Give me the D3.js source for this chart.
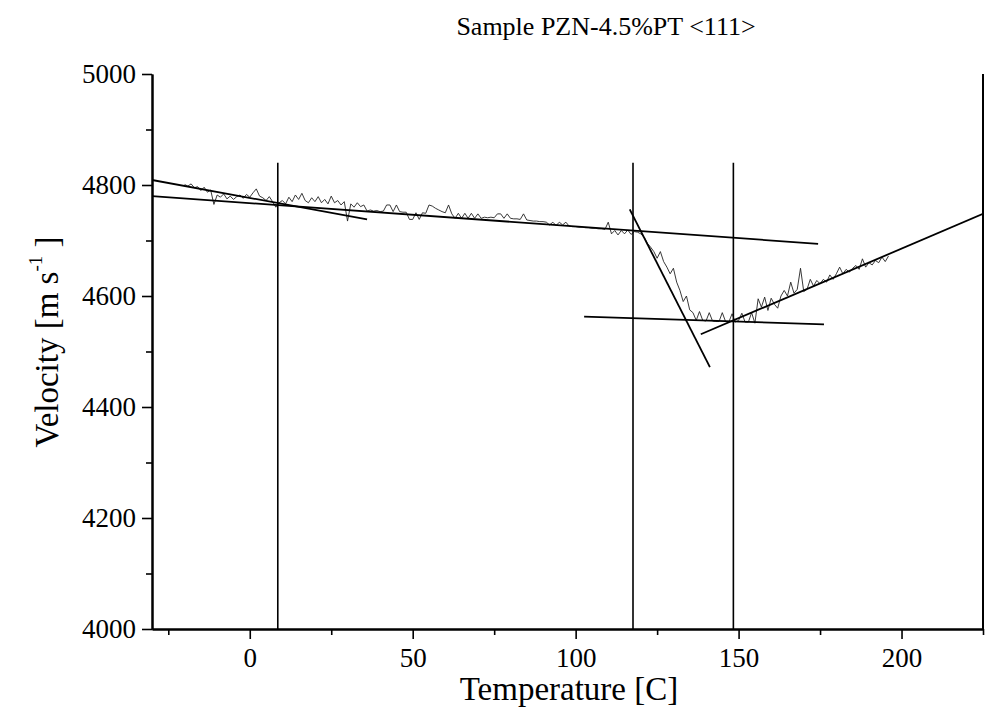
<!DOCTYPE html>
<html>
<head>
<meta charset="utf-8">
<script src="https://cdn.jsdelivr.net/npm/d3@7"></script>
<style>
    body { margin: 0; background: #fff; }
    svg { display: block; font-family: 'Liberation Serif', 'Times New Roman', serif; }
</style>
</head>
<body>
<div id="chart"></div>
<script>
// measured trace, one reading per degree starting at -20 C
const tempStart = -20;
const velocity = [
    4801, 4798, 4802, 4795, 4797, 4790, 4796, 4787, 4791, 4765,
    4782, 4778, 4784, 4775, 4780, 4774, 4779, 4782, 4776, 4783,
    4778, 4786, 4793, 4780, 4777, 4772, 4779, 4770, 4760, 4768,
    4772, 4766, 4778, 4770, 4782, 4774, 4785, 4772, 4768, 4777,
    4770, 4779, 4768, 4774, 4766, 4780, 4768, 4772, 4764, 4770,
    4735, 4766, 4760, 4768, 4761, 4764, 4753, 4755, 4753, 4754,
    4752, 4753, 4764, 4764, 4752, 4764, 4752, 4751, 4751, 4738,
    4738, 4750, 4738, 4750, 4749, 4764, 4762, 4758, 4755, 4752,
    4750, 4764, 4748, 4740, 4749, 4740, 4749, 4740, 4749, 4740,
    4748, 4740, 4742, 4741, 4742, 4741, 4748, 4748, 4740, 4748,
    4740, 4739, 4739, 4738, 4748, 4737, 4736, 4735, 4735, 4734,
    4734, 4733, 4728, 4733, 4727, 4733, 4728, 4733, 4726, 4725,
    4725, 4724, 4724, 4723, 4723, 4722, 4722, 4721, 4721, 4720,
    4733, 4712, 4718, 4710, 4718, 4712, 4719, 4711, 4716, 4715,
    4712, 4706, 4695, 4688, 4680, 4668, 4680, 4662, 4652, 4640,
    4650, 4625, 4610, 4590, 4600, 4575, 4570, 4556, 4572, 4556,
    4555, 4570, 4555, 4554, 4554, 4570, 4554, 4553, 4568, 4553,
    4556, 4569, 4553, 4553, 4570, 4551, 4595, 4580, 4598, 4574,
    4596, 4585, 4578, 4600, 4610, 4600, 4625, 4605, 4612, 4650,
    4608, 4612, 4630, 4618, 4628, 4622, 4630, 4625, 4638, 4630,
    4640, 4652, 4640, 4648, 4643, 4650, 4655, 4648, 4667, 4652,
    4660, 4656, 4664, 4660, 4670, 4662, 4672
];

// straight-line fits: [T1, V1, T2, V2]
const fitLines = [
    [-30, 4809, 36, 4738],
    [-30, 4780, 174.4, 4694],
    [116.6, 4756, 141.2, 4472],
    [102.6, 4563, 176.2, 4549],
    [138.4, 4531, 225, 4748]
];

// transition markers
const markerTemps = [8.6, 117.6, 148.4];
const markerTop = 4840;

const xMajor = [0, 50, 100, 150, 200];
const xMinor = [-25, 25, 75, 125, 175, 225];
const yMajor = [4000, 4200, 4400, 4600, 4800, 5000];
const yMinor = [4100, 4300, 4500, 4700, 4900];

const titleText = 'Sample PZN-4.5%PT <111>';
const xTitle = 'Temperature [C]';

const width = 987, height = 714;
const plot = { left: 152, right: 983, top: 74, bottom: 629 };

const x = d3.scaleLinear().domain([-30, 225]).range([plot.left, plot.right]);
const y = d3.scaleLinear().domain([4000, 5000]).range([plot.bottom, plot.top]);

const svg = d3.select('#chart').append('svg')
    .attr('width', width)
    .attr('height', height);

svg.append('defs').append('clipPath').attr('id', 'clip')
    .append('rect')
    .attr('x', plot.left).attr('y', plot.top)
    .attr('width', plot.right - plot.left).attr('height', plot.bottom - plot.top);

const chart = svg.append('g').attr('clip-path', 'url(#clip)');

// data trace
const trace = velocity.map((v, i) => [tempStart + i, v]);
chart.append('path')
    .datum(trace)
    .attr('fill', 'none')
    .attr('stroke', '#222')
    .attr('stroke-width', 0.9)
    .attr('d', d3.line().x(d => x(d[0])).y(d => y(d[1])));

// fits
chart.selectAll('.fit').data(fitLines).join('line')
    .attr('class', 'fit')
    .attr('x1', d => x(d[0])).attr('y1', d => y(d[1]))
    .attr('x2', d => x(d[2])).attr('y2', d => y(d[3]))
    .attr('stroke', '#000')
    .attr('stroke-width', 1.8);

// vertical markers
chart.selectAll('.marker').data(markerTemps).join('line')
    .attr('class', 'marker')
    .attr('x1', d => x(d)).attr('x2', d => x(d))
    .attr('y1', y(markerTop)).attr('y2', plot.bottom)
    .attr('stroke', '#000')
    .attr('stroke-width', 1.6);

// axes
svg.append('g')
    .attr('transform', `translate(0, ${plot.bottom})`)
    .call(d3.axisBottom(x).tickValues(xMajor).tickFormat(d3.format('d'))
        .tickSize(10).tickSizeOuter(0).tickPadding(9));
svg.append('g')
    .attr('transform', `translate(0, ${plot.bottom})`)
    .call(d3.axisBottom(x).tickValues(xMinor).tickSize(6).tickSizeOuter(0).tickFormat(''));

svg.append('g')
    .attr('transform', `translate(${plot.left}, 0)`)
    .call(d3.axisLeft(y).tickValues(yMajor).tickFormat(d3.format('d'))
        .tickSize(10).tickSizeOuter(0).tickPadding(6));
svg.append('g')
    .attr('transform', `translate(${plot.left}, 0)`)
    .call(d3.axisLeft(y).tickValues(yMinor).tickSize(6).tickSizeOuter(0).tickFormat(''));

svg.selectAll('.domain').attr('stroke', '#000').attr('stroke-width', 2);
svg.selectAll('.tick line').attr('stroke', '#000').attr('stroke-width', 1.6);
svg.selectAll('.tick text')
    .attr('fill', '#000')
    .style('font-family', "'Liberation Serif', serif")
    .style('font-size', '27px');

// right edge
svg.append('line')
    .attr('x1', plot.right).attr('x2', plot.right)
    .attr('y1', plot.top).attr('y2', plot.bottom)
    .attr('stroke', '#000').attr('stroke-width', 2);

// titles
svg.append('text')
    .attr('x', 606).attr('y', 35)
    .attr('text-anchor', 'middle')
    .style('font-size', '26px')
    .text(titleText);

svg.append('text')
    .attr('x', 569).attr('y', 700)
    .attr('text-anchor', 'middle')
    .style('font-size', '33px')
    .text(xTitle);

const yLabel = svg.append('text')
    .attr('transform', 'translate(58, 342) rotate(-90)')
    .attr('text-anchor', 'middle')
    .style('font-size', '33px');
yLabel.append('tspan').text('Velocity [m s');
yLabel.append('tspan').attr('dy', -16).style('font-size', '19px').text('-1');
yLabel.append('tspan').attr('dy', 16).text(' ]');
</script>
</body>
</html>
